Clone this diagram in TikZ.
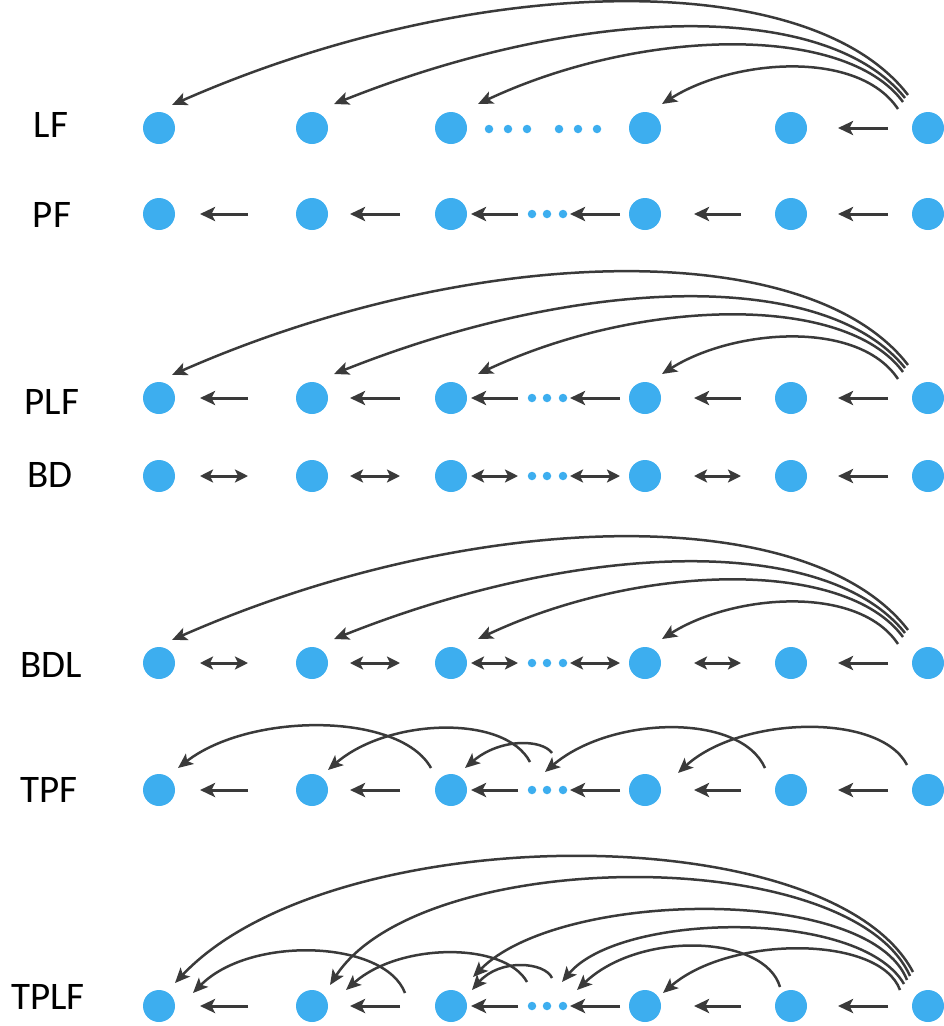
\documentclass[tikz,border=0pt]{standalone}
\usepackage{fontspec}
\setmainfont{Carlito}
\usetikzlibrary{arrows.meta}
\definecolor{dotblue}{HTML}{3DAEEF}
\definecolor{linkgray}{HTML}{3A3A3A}
\tikzset{
  state/.style={circle,fill=dotblue,inner sep=0pt,outer sep=0pt,minimum size=32pt},
  pip/.style={circle,fill=dotblue,inner sep=0pt,minimum size=8.5pt},
  rowname/.style={inner sep=0pt,font=\fontsize{39}{44}\selectfont},
  back/.style={draw=linkgray,line width=3pt,-{Stealth[length=15pt,width=14pt,inset=3.5pt]}},
  both/.style={draw=linkgray,line width=3pt,{Stealth[length=13pt,width=13pt,inset=3pt]}-{Stealth[length=13pt,width=13pt,inset=3pt]}},
  jump/.style={draw=linkgray,line width=2.5pt,-{Stealth[length=15pt,width=13pt,inset=3.5pt]}},
  gap/.style 2 args={shorten >=#1pt,shorten <=#2pt}
}
\begin{document}
\begin{tikzpicture}[x=1pt,y=-1pt]
      \useasboundingbox (0,0) rectangle (944,1026);
      % row names
      \draw
        (51,125) node[rowname] (lfname){LF}
        (52,215) node[rowname] (pfname){PF}
        (52,402) node[rowname] (plfname){PLF}
        (50,475) node[rowname] (bdname){BD}
        (51,665) node[rowname] (bdlname){BDL}
        (49,790) node[rowname] (tpfname){TPF}
        (48,997) node[rowname] (tplfname){TPLF};
      % LF
      \draw
        (159,128) node[state] (lf1){}
        (312,128) node[state] (lf2){}
        (451,128) node[state] (lf3){}
        (645,128) node[state] (lf4){}
        (791,128) node[state] (lf5){}
        (928,128) node[state] (lf6){};
      \draw
        (489,129) node[pip] (lfd1){}
        (508,129) node[pip] (lfd2){}
        (527,129) node[pip] (lfd3){}
        (559,129) node[pip] (lfd4){}
        (578,129) node[pip] (lfd5){}
        (597,129) node[pip] (lfd6){};
      \draw[back,gap={47}{40}] (lf6.center) -- (lf5.center);
      \draw[jump] ([shift={(-20,-33)}]lf6.center) .. controls +(-100,-130) and +(300,-132) .. ([shift={(13,-23)}]lf1.center);
      \draw[jump] ([shift={(-23,-30)}]lf6.center) .. controls +(-80,-100) and +(246,-98) .. ([shift={(22,-24)}]lf2.center);
      \draw[jump] ([shift={(-25,-26)}]lf6.center) .. controls +(-58,-79) and +(162,-76) .. ([shift={(27,-24)}]lf3.center);
      \draw[jump] ([shift={(-30,-19)}]lf6.center) .. controls +(-40,-60) and +(71,-45) .. ([shift={(17,-24)}]lf4.center);
      % PF
      \draw
        (159,214) node[state] (pf1){}
        (312,214) node[state] (pf2){}
        (451,214) node[state] (pf3){}
        (645,214) node[state] (pf4){}
        (791,214) node[state] (pf5){}
        (928,214) node[state] (pf6){};
      \draw
        (532,214) node[pip] (pfd1){}
        (547,214) node[pip] (pfd2){}
        (563,214) node[pip] (pfd3){};
      \draw[back,gap={41}{64}] (pf2.center) -- (pf1.center);
      \draw[back,gap={38}{51}] (pf3.center) -- (pf2.center);
      \draw[back,gap={20}{14}] (pfd1.center) -- (pf3.center);
      \draw[back,gap={7}{25}] (pf4.center) -- (pfd3.center);
      \draw[back,gap={49}{50}] (pf5.center) -- (pf4.center);
      \draw[back,gap={47}{40}] (pf6.center) -- (pf5.center);
      % PLF
      \draw
        (159,398) node[state] (plf1){}
        (312,398) node[state] (plf2){}
        (451,398) node[state] (plf3){}
        (645,398) node[state] (plf4){}
        (791,398) node[state] (plf5){}
        (928,398) node[state] (plf6){};
      \draw
        (532,398) node[pip] (plfd1){}
        (547,398) node[pip] (plfd2){}
        (563,398) node[pip] (plfd3){};
      \draw[back,gap={41}{64}] (plf2.center) -- (plf1.center);
      \draw[back,gap={38}{51}] (plf3.center) -- (plf2.center);
      \draw[back,gap={20}{14}] (plfd1.center) -- (plf3.center);
      \draw[back,gap={7}{25}] (plf4.center) -- (plfd3.center);
      \draw[back,gap={49}{50}] (plf5.center) -- (plf4.center);
      \draw[back,gap={47}{40}] (plf6.center) -- (plf5.center);
      \draw[jump] ([shift={(-20,-33)}]plf6.center) .. controls +(-100,-130) and +(300,-132) .. ([shift={(13,-23)}]plf1.center);
      \draw[jump] ([shift={(-23,-30)}]plf6.center) .. controls +(-80,-100) and +(246,-98) .. ([shift={(22,-24)}]plf2.center);
      \draw[jump] ([shift={(-25,-26)}]plf6.center) .. controls +(-58,-79) and +(162,-76) .. ([shift={(27,-24)}]plf3.center);
      \draw[jump] ([shift={(-30,-19)}]plf6.center) .. controls +(-40,-60) and +(71,-45) .. ([shift={(17,-24)}]plf4.center);
      % BD
      \draw
        (159,476) node[state] (bd1){}
        (312,476) node[state] (bd2){}
        (451,476) node[state] (bd3){}
        (645,476) node[state] (bd4){}
        (791,476) node[state] (bd5){}
        (928,476) node[state] (bd6){};
      \draw
        (532,476) node[pip] (bdd1){}
        (547,476) node[pip] (bdd2){}
        (563,476) node[pip] (bdd3){};
      \draw[both,gap={41}{64}] (bd2.center) -- (bd1.center);
      \draw[both,gap={38}{51}] (bd3.center) -- (bd2.center);
      \draw[both,gap={20}{14}] (bdd1.center) -- (bd3.center);
      \draw[both,gap={7}{25}] (bd4.center) -- (bdd3.center);
      \draw[both,gap={49}{50}] (bd5.center) -- (bd4.center);
      \draw[back,gap={47}{40}] (bd6.center) -- (bd5.center);
      % BDL
      \draw
        (159,663) node[state] (bdl1){}
        (312,663) node[state] (bdl2){}
        (451,663) node[state] (bdl3){}
        (645,663) node[state] (bdl4){}
        (791,663) node[state] (bdl5){}
        (928,663) node[state] (bdl6){};
      \draw
        (532,663) node[pip] (bdld1){}
        (547,663) node[pip] (bdld2){}
        (563,663) node[pip] (bdld3){};
      \draw[both,gap={41}{64}] (bdl2.center) -- (bdl1.center);
      \draw[both,gap={38}{51}] (bdl3.center) -- (bdl2.center);
      \draw[both,gap={20}{14}] (bdld1.center) -- (bdl3.center);
      \draw[both,gap={7}{25}] (bdl4.center) -- (bdld3.center);
      \draw[both,gap={49}{50}] (bdl5.center) -- (bdl4.center);
      \draw[back,gap={47}{40}] (bdl6.center) -- (bdl5.center);
      \draw[jump] ([shift={(-20,-33)}]bdl6.center) .. controls +(-100,-130) and +(300,-132) .. ([shift={(13,-23)}]bdl1.center);
      \draw[jump] ([shift={(-23,-30)}]bdl6.center) .. controls +(-80,-100) and +(246,-98) .. ([shift={(22,-24)}]bdl2.center);
      \draw[jump] ([shift={(-25,-26)}]bdl6.center) .. controls +(-58,-79) and +(162,-76) .. ([shift={(27,-24)}]bdl3.center);
      \draw[jump] ([shift={(-30,-19)}]bdl6.center) .. controls +(-40,-60) and +(71,-45) .. ([shift={(17,-24)}]bdl4.center);
      % TPF
      \draw
        (159,790) node[state] (tpf1){}
        (312,790) node[state] (tpf2){}
        (451,790) node[state] (tpf3){}
        (645,790) node[state] (tpf4){}
        (791,790) node[state] (tpf5){}
        (928,790) node[state] (tpf6){};
      \draw
        (532,790) node[pip] (tpfd1){}
        (547,790) node[pip] (tpfd2){}
        (563,790) node[pip] (tpfd3){};
      \draw[back,gap={41}{64}] (tpf2.center) -- (tpf1.center);
      \draw[back,gap={38}{51}] (tpf3.center) -- (tpf2.center);
      \draw[back,gap={20}{14}] (tpfd1.center) -- (tpf3.center);
      \draw[back,gap={7}{25}] (tpf4.center) -- (tpfd3.center);
      \draw[back,gap={49}{50}] (tpf5.center) -- (tpf4.center);
      \draw[back,gap={47}{40}] (tpf6.center) -- (tpf5.center);
      \draw[jump] ([shift={(-20,-22)}]tpf3.center) .. controls +(-31,-56) and +(72,-56) .. ([shift={(19,-22)}]tpf1.center);
      \draw[jump] ([shift={(-17,-28)}]tpfd2.center) .. controls +(-25,-48) and +(60,-52) .. ([shift={(16,-20)}]tpf2.center);
      \draw[jump] ([shift={(5,-37)}]tpfd2.center) .. controls +(-10,-14) and +(35,-30) .. ([shift={(14,-22)}]tpf3.center);
      \draw[jump] ([shift={(-26,-22)}]tpf5.center) .. controls +(-25,-56) and +(65,-56) .. ([shift={(-2,-18)}]tpfd2.center);
      \draw[jump] ([shift={(-21,-25)}]tpf6.center) .. controls +(-27,-53) and +(62,-57) .. ([shift={(33,-17)}]tpf4.center);
      % TPLF
      \draw
        (159,1006) node[state] (tplf1){}
        (312,1006) node[state] (tplf2){}
        (451,1006) node[state] (tplf3){}
        (645,1006) node[state] (tplf4){}
        (791,1006) node[state] (tplf5){}
        (928,1006) node[state] (tplf6){};
      \draw
        (532,1006) node[pip] (tplfd1){}
        (547,1006) node[pip] (tplfd2){}
        (563,1006) node[pip] (tplfd3){};
      \draw[back,gap={41}{64}] (tplf2.center) -- (tplf1.center);
      \draw[back,gap={38}{51}] (tplf3.center) -- (tplf2.center);
      \draw[back,gap={20}{14}] (tplfd1.center) -- (tplf3.center);
      \draw[back,gap={7}{25}] (tplf4.center) -- (tplfd3.center);
      \draw[back,gap={49}{50}] (tplf5.center) -- (tplf4.center);
      \draw[back,gap={47}{40}] (tplf6.center) -- (tplf5.center);
      \draw[jump] ([shift={(-46,-13)}]tplf3.center) .. controls +(-20,-53) and +(57,-58) .. ([shift={(34,-13)}]tplf1.center);
      \draw[jump] ([shift={(-20,-24)}]tplfd2.center) .. controls +(-22,-40) and +(54,-48) .. ([shift={(34,-16)}]tplf2.center);
      \draw[jump] ([shift={(5,-28)}]tplfd2.center) .. controls +(-7,-16) and +(28,-32) .. ([shift={(21,-16)}]tplf3.center);
      \draw[jump] ([shift={(-11,-19)}]tplf5.center) .. controls +(-15,-52) and +(63,-60) .. ([shift={(30,-16)}]tplfd2.center);
      \draw[jump] ([shift={(-28,-16)}]tplf6.center) .. controls +(-20,-55) and +(67,-58) .. ([shift={(18,-13)}]tplf4.center);
      \draw[jump] ([shift={(-15,-34)}]tplf6.center) .. controls +(-83,-157) and +(155,-165) .. ([shift={(16,-23)}]tplf1.center);
      \draw[jump] ([shift={(-18,-30)}]tplf6.center) .. controls +(-60,-134) and +(90,-139) .. ([shift={(18,-21)}]tplf2.center);
      \draw[jump] ([shift={(-21,-26)}]tplf6.center) .. controls +(-37,-95) and +(87,-88) .. ([shift={(22,-29)}]tplf3.center);
      \draw[jump] ([shift={(-24,-22)}]tplf6.center) .. controls +(-44,-76) and +(58,-70) .. ([shift={(15,-24)}]tplfd2.center);
    \end{tikzpicture}
\end{document}
